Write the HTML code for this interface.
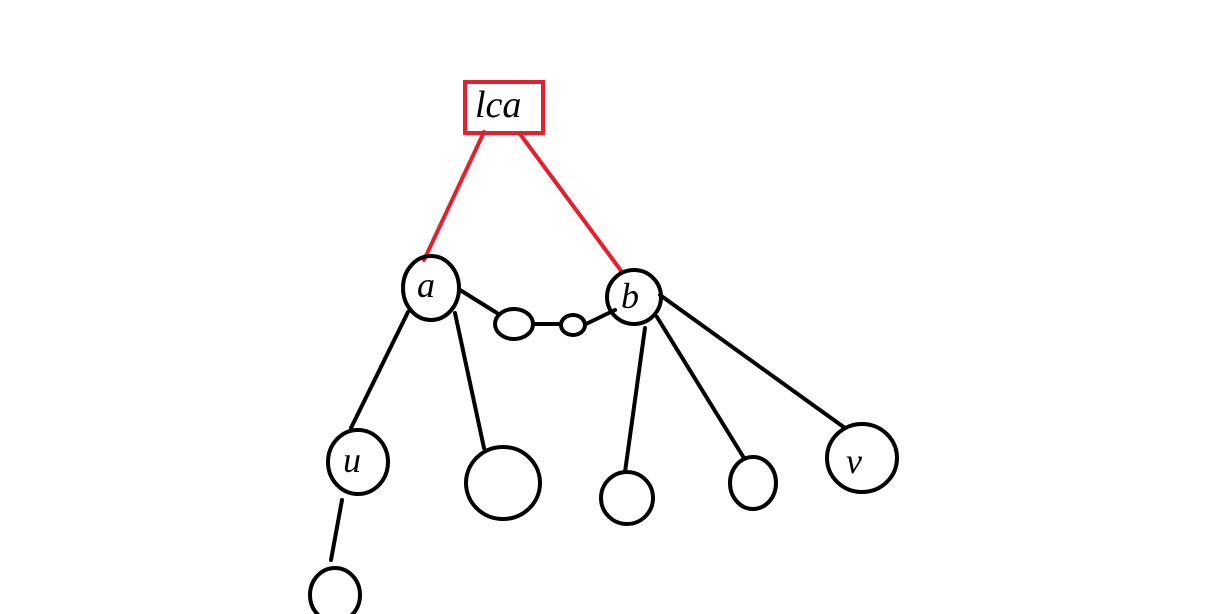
<!DOCTYPE html>
<html><head><meta charset="utf-8"><style>
html,body{margin:0;padding:0;background:#fff;}
svg{display:block;}
text{font-family:"Liberation Serif",serif;font-style:italic;fill:#000;}
</style></head><body>
<svg width="1212" height="614" viewBox="0 0 1212 614" xmlns="http://www.w3.org/2000/svg">
<g fill="none" stroke-width="4" stroke-linecap="round">
<rect x="465" y="82" width="78" height="51" stroke="#e3202b"/>
<line x1="484" y1="132" x2="424" y2="260" stroke="#e3202b"/>
<line x1="520" y1="134" x2="622" y2="272" stroke="#e3202b"/>
<g stroke="#000">
<ellipse cx="431" cy="288" rx="28" ry="32"/>
<line x1="460" y1="290" x2="497" y2="313"/>
<ellipse cx="514" cy="324" rx="19" ry="15"/>
<line x1="533" y1="324" x2="561" y2="324"/>
<ellipse cx="573" cy="325" rx="12" ry="10"/>
<line x1="586" y1="324" x2="615" y2="310"/>
<ellipse cx="634" cy="297" rx="27" ry="27"/>
<line x1="660" y1="295" x2="845" y2="428"/>
<ellipse cx="862" cy="458" rx="35" ry="34"/>
<line x1="645" y1="328" x2="625" y2="472"/>
<ellipse cx="627" cy="498" rx="26" ry="26"/>
<line x1="657" y1="317" x2="744" y2="458"/>
<ellipse cx="753" cy="483" rx="23" ry="26"/>
<line x1="408" y1="312" x2="351" y2="428"/>
<ellipse cx="358" cy="462" rx="30" ry="32"/>
<line x1="455" y1="313" x2="484" y2="448"/>
<ellipse cx="503" cy="483" rx="37" ry="36"/>
<line x1="342" y1="500" x2="331" y2="560"/>
<ellipse cx="335" cy="595" rx="25" ry="27"/>
</g></g>
<text x="475" y="117" font-size="38">lca</text>
<text x="417" y="297" font-size="36">a</text>
<text x="621" y="308" font-size="36">b</text>
<text x="343" y="472" font-size="36">u</text>
<text x="846" y="473" font-size="36">v</text>
</svg>
</body></html>
